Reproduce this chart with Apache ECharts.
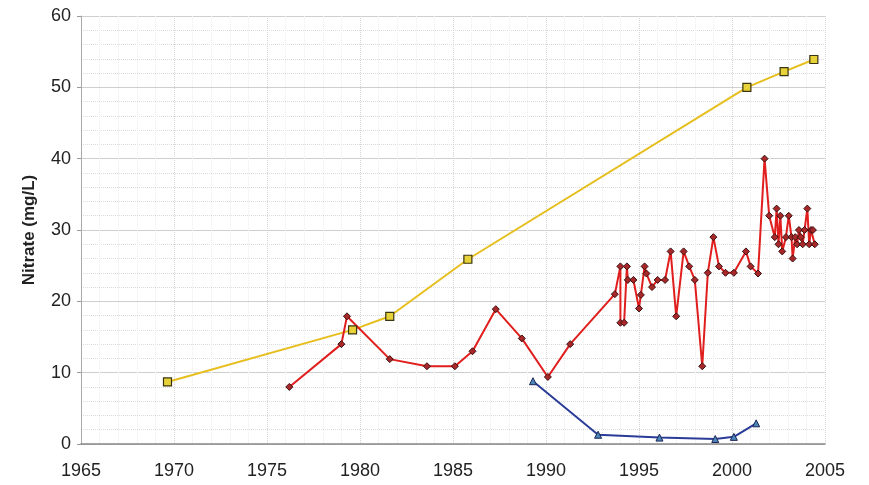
<!DOCTYPE html>
<html>
<head>
<meta charset="utf-8">
<script src="https://cdn.jsdelivr.net/npm/echarts@6/dist/echarts.min.js"></script>
<style>
  html, body { margin: 0; padding: 0; background: #fff; }
  #chart { width: 869px; height: 485px; }
</style>
</head>
<body>
<div id="chart"></div>
<script>
// yellow series (squares)
var yellowYears = [1969.65, 1979.6, 1981.6, 1985.8, 2000.8, 2002.8, 2004.4]
var yellowVals = [8.7, 16.0, 17.9, 25.9, 50.0, 52.2, 53.9]

// red series (diamonds)
var redYears = [1976.2, 1979.0, 1979.3, 1981.6, 1983.6, 1985.1, 1986.05, 1987.3, 1988.7, 1990.1, 1991.3,
  1993.7, 1994.0, 1994.0, 1994.2, 1994.35, 1994.4, 1994.7, 1995.0, 1995.1, 1995.3, 1995.4, 1995.7,
  1996.0, 1996.4, 1996.7, 1997.0, 1997.4, 1997.7, 1998.0, 1998.4, 1998.7, 1999.0, 1999.3, 1999.65,
  2000.1, 2000.75, 2001.0, 2001.4, 2001.75, 2002.0, 2002.3, 2002.4, 2002.5, 2002.6, 2002.7, 2002.9,
  2003.05, 2003.2, 2003.26, 2003.4, 2003.5, 2003.6, 2003.7, 2003.8, 2003.9, 2004.05, 2004.15, 2004.25,
  2004.35, 2004.45]
var redVals = [8.0, 14.0, 17.9, 11.9, 10.9, 10.9, 13.0, 18.9, 14.8, 9.4, 14.0,
  21.0, 24.9, 17.0, 17.0, 24.9, 23.0, 23.0, 19.0, 20.9, 24.9, 23.9, 22.0,
  23.0, 23.0, 27.0, 17.9, 27.0, 24.9, 23.0, 10.9, 24.0, 29.0, 24.9, 24.0,
  24.0, 27.0, 24.9, 23.9, 40.0, 32.0, 29.0, 33.0, 28.0, 32.0, 27.0, 29.0,
  32.0, 29.0, 26.0, 29.0, 28.0, 30.0, 29.0, 28.0, 30.0, 33.0, 28.0, 30.0,
  30.0, 28.0]

// blue series (triangles)
var blueYears = [1989.3, 1992.8, 1996.1, 1999.1, 2000.1, 2001.3]
var blueVals = [8.8, 1.3, 0.9, 0.7, 1.0, 2.9]

function pairs(xs, ys) {
  var out = []
  for (var i = 0; i < xs.length; i++) {
    out.push([xs[i], ys[i]])
  }
  return out
}

var myChart = echarts.init(document.getElementById('chart'))
var option = {
  animation: false,
  grid: { left: 81, right: 44, top: 16, bottom: 41 },
  xAxis: {
    type: 'value',
    min: 1965,
    max: 2005,
    interval: 5,
    axisLine: { show: true, lineStyle: { color: '#888', width: 1.5 } },
    axisTick: { show: false },
    axisLabel: {
      color: '#222', fontSize: 18, fontFamily: 'Liberation Sans, Arial', margin: 18,
      formatter: function (v) { return String(v) }
    },
    splitLine: { show: true, lineStyle: { color: '#d4d4d4', type: 'dotted' } },
    minorTick: { show: false, splitNumber: 5 },
    minorSplitLine: { show: true, lineStyle: { color: '#ececec', type: 'dotted' } }
  },
  yAxis: {
    type: 'value',
    min: 0,
    max: 60,
    interval: 10,
    name: 'Nitrate (mg/L)',
    nameLocation: 'middle',
    nameGap: 43,
    nameTextStyle: { color: '#222', fontSize: 17, fontWeight: 'bold', fontFamily: 'Liberation Sans, Arial' },
    axisLine: { show: true, lineStyle: { color: '#aaa' } },
    axisTick: { show: true, length: 4, lineStyle: { color: '#999' } },
    axisLabel: { color: '#222', fontSize: 18, fontFamily: 'Liberation Sans, Arial', margin: 10 },
    splitLine: { show: true, lineStyle: { color: '#cfcfcf' } },
    minorTick: { show: false, splitNumber: 5 },
    minorSplitLine: { show: true, lineStyle: { color: '#dcdcdc', type: 'dotted' } }
  },
  series: [
    {
      name: 'yellow',
      type: 'line',
      data: pairs(yellowYears, yellowVals),
      symbol: 'rect',
      symbolSize: 8,
      lineStyle: { color: '#E6BE1E', width: 2 },
      itemStyle: { color: '#E8D23A', borderColor: '#3a3410', borderWidth: 1.2 }
    },
    {
      name: 'red',
      type: 'line',
      data: pairs(redYears, redVals),
      symbol: 'diamond',
      symbolSize: 7,
      lineStyle: { color: '#E01E1E', width: 2 },
      itemStyle: { color: '#A8282A', borderColor: '#3a1010', borderWidth: 1 }
    },
    {
      name: 'blue',
      type: 'line',
      data: pairs(blueYears, blueVals),
      symbol: 'triangle',
      symbolSize: 7,
      lineStyle: { color: '#2A3C98', width: 2 },
      itemStyle: { color: '#4C86B8', borderColor: '#1a2456', borderWidth: 1 }
    }
  ]
}
myChart.setOption(option)
</script>
</body>
</html>
